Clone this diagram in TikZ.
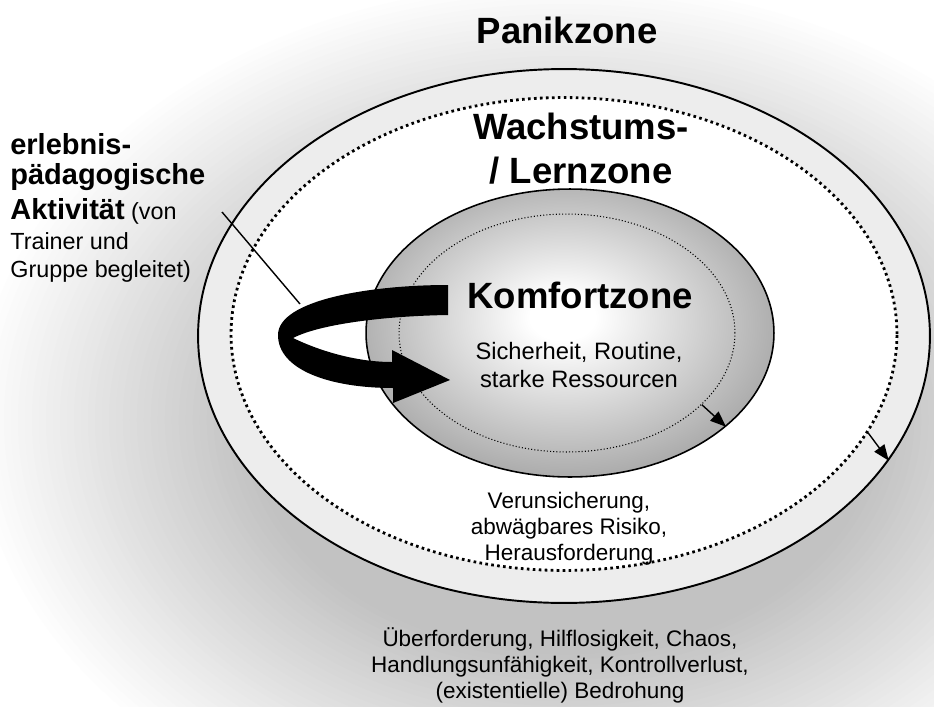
\documentclass[tikz,border=0pt]{standalone}
\usepackage{fontspec}
\setmainfont{Liberation Sans}
\usetikzlibrary{shapes.geometric,arrows.meta}
\pgfdeclareradialshading{komfortbg}{\pgfpoint{-1bp}{3bp}}{color(0bp)=(white); color(4bp)=(white); color(30bp)=(black!38); color(35bp)=(black!42); color(50bp)=(black!42)}
\newcommand\fettzeile[1]{{\fontsize{16.5}{17}\selectfont\bfseries #1}}
\newcommand\engzeilen{\lineskiplimit=-20pt\relax}
\begin{document}
\begin{tikzpicture}[
  x=0.02cm, y=-0.02cm,
  zone/.style={ellipse, inner sep=0pt, draw},
  rand/.style={ellipse, inner sep=0pt, draw, dash pattern=on 1.5pt off 1.9pt},
  titel/.style={font=\fontsize{20.8}{24.5}\selectfont\bfseries, align=center, anchor=base, inner sep=0pt},
  info/.style={font=\fontsize{12.8}{14.8}\selectfont, align=center, anchor=base, inner sep=0pt},
  weiter/.style={-{Triangle[length=9pt,width=7pt]}, line width=0.8pt}
]
\useasboundingbox (0,0) rectangle (934,707);
\begin{scope}
  \clip (0,0) rectangle (934,707);
  \foreach \k [evaluate=\k as \g using 0.6*\k, evaluate=\k as \r using 0.85-0.01*\k] in {0,...,40}
    \fill[black!\g] (564,420) ellipse [x radius=\r*14cm, y radius=\r*10.4cm];
\end{scope}

% zones
\node[zone, line width=1.1pt, fill=black!7, minimum width=14.64cm, minimum height=10.68cm] (lernzone) at (564,336) {};
\node[rand, line width=1.6pt, fill=white, minimum width=13.32cm, minimum height=9.46cm] (lernrand) at (564,334) {};
\node[zone, line width=0.9pt, shade, shading=komfortbg, minimum width=8.16cm, minimum height=5.76cm] (komfortzone) at (570,333) {};
\node[rand, line width=0.6pt, dash pattern=on 0.6pt off 1.2pt, minimum width=6.72cm, minimum height=4.76cm] (komfortrand) at (567,333) {};

\draw[weiter] (komfortrand.-28) -- (komfortzone.-31);
\draw[weiter] (lernrand.-18.5) -- (lernzone.-21);

% activity arrow
\coordinate (zeigerstart) at (222,212);
\coordinate (zeigerende) at (300,304);
\draw[line width=0.8pt] (zeigerstart) -- (zeigerende);
\fill (448,285) -- (448,315) .. controls (385,316) and (320,324) .. (293,338)
  .. controls (322,352) and (358,362) .. (392,362) -- (392,350) -- (450,380)
  -- (393,403) -- (393,388) .. controls (330,388) and (278,370) .. (278,335)
  .. controls (278,300) and (370,285) .. (448,285) -- cycle;

% texts
\node[titel] (panik) at (567,43) {Panikzone};
\node[titel] (lernen) at (581,183) {Wachstums-\\/ Lernzone};
\node[titel] (komfort) at (580,308) {Komfortzone};
\node[info, font=\fontsize{13.5}{15.4}\selectfont] (komfortinfo) at (579,387) {Sicherheit, Routine,\\starke Ressourcen};
\node[info] (lerninfo) at (569,560) {Verunsicherung,\\abw\"agbares Risiko,\\Herausforderung};
\node[info] (panikinfo) at (560,698) {\"Uberforderung, Hilflosigkeit, Chaos,\\Handlungsunf\"ahigkeit, Kontrollverlust,\\(existentielle) Bedrohung};
\node[anchor=base west, align=left, inner sep=0pt, font=\fontsize{13.3}{15.4}\selectfont\engzeilen] (aktivitaet) at (10,277)
  {\fettzeile{erlebnis-}\\[1.7pt]
   \fettzeile{p\"adagogische}\\[4.5pt]
   \fettzeile{Aktivit\"at} (von\\[1.7pt]
   Trainer und\\
   Gruppe begleitet)};
\end{tikzpicture}
\end{document}
